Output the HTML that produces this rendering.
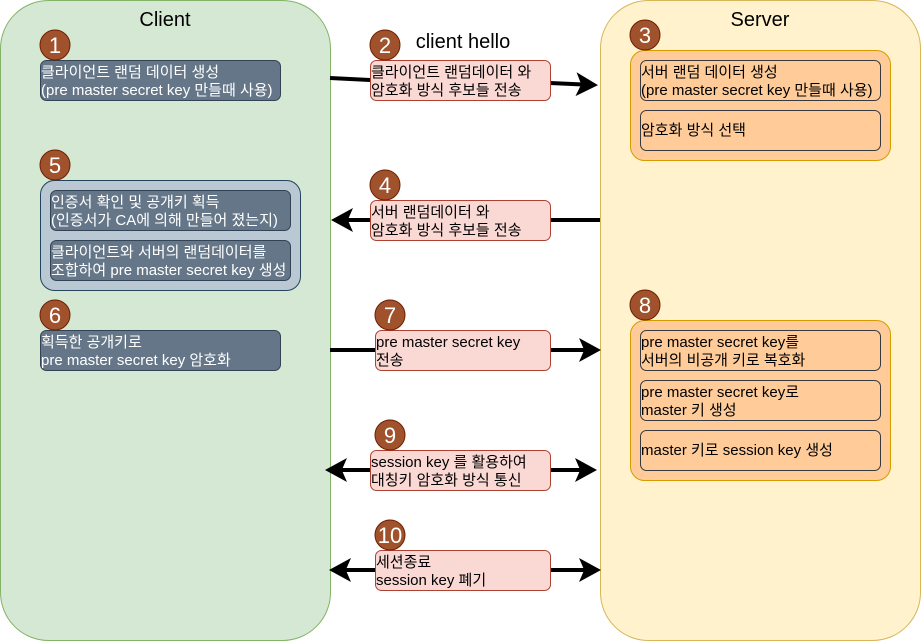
<!DOCTYPE html><html><head><meta charset="utf-8"><style>body{margin:0;background:#fff}svg{display:block}text{font-family:"Liberation Sans","Noto Sans CJK KR",sans-serif}</style></head><body>
<svg width="921" height="641" viewBox="0 0 921 641" xmlns="http://www.w3.org/2000/svg">
<defs><marker id="a" markerWidth="6" markerHeight="6" refX="4.5" refY="3" orient="auto" markerUnits="strokeWidth"><path d="M0,0 L5.5,3 L0,6 L1.3,3 Z" fill="#000"/></marker></defs>
<rect x="0.5" y="0.5" width="330" height="640" rx="48" fill="#d5e8d4" stroke="#82b366"/>
<rect x="600.5" y="0.5" width="320" height="640" rx="48" fill="#fff2cc" stroke="#d6b656"/>
<text x="165" y="26" font-size="20" text-anchor="middle">Client</text>
<text x="760" y="26" font-size="20" text-anchor="middle">Server</text>
<text x="463" y="48" font-size="20" text-anchor="middle">client hello</text>
<g stroke="#000" stroke-width="4" fill="none">
<path d="M330,78 L370,80"/><path d="M550,83 L594,85" marker-end="url(#a)"/>
<path d="M600,220 L550,220"/><path d="M370,220 L335,220" marker-end="url(#a)"/>
<path d="M330,350 L375,350"/><path d="M550,350 L597,350" marker-end="url(#a)"/>
<path d="M370,470 L329,470" marker-end="url(#a)"/><path d="M550,470 L593,470" marker-end="url(#a)"/>
<path d="M375,570 L333,570" marker-end="url(#a)"/><path d="M550,570 L597,570" marker-end="url(#a)"/>
</g>
<g fill="#647687" stroke="#314354">
<rect x="40.5" y="60.5" width="240" height="40" rx="6"/>
<rect x="40.5" y="180.5" width="260" height="110" rx="14" fill="#bac8d3" stroke="#23445d"/>
<rect x="50.5" y="190.5" width="240" height="40" rx="6"/>
<rect x="50.5" y="240.5" width="240" height="40" rx="6"/>
<rect x="40.5" y="330.5" width="240" height="40" rx="6"/>
</g>
<g fill="#fad9d5" stroke="#ae4132">
<rect x="370.5" y="60.5" width="180" height="40" rx="6"/>
<rect x="370.5" y="200.5" width="180" height="40" rx="6"/>
<rect x="375.5" y="330.5" width="175" height="40" rx="6"/>
<rect x="370.5" y="450.5" width="180" height="40" rx="6"/>
<rect x="375.5" y="550.5" width="175" height="40" rx="6"/>
</g>
<g fill="#ffcc99" stroke="#d79b00">
<rect x="630.5" y="50.5" width="260" height="110" rx="14"/>
<rect x="630.5" y="320.5" width="260" height="160" rx="14"/>
</g>
<g fill="#ffcc99" stroke="#36393d">
<rect x="640.5" y="60.5" width="240" height="40" rx="6"/>
<rect x="640.5" y="110.5" width="240" height="40" rx="6"/>
<rect x="640.5" y="330.5" width="240" height="40" rx="6"/>
<rect x="640.5" y="380.5" width="240" height="40" rx="6"/>
<rect x="640.5" y="430.5" width="240" height="40" rx="6"/>
</g>
<g font-size="15" fill="#fff">
<text x="41" y="77">클라이언트 랜덤 데이터 생성</text><text x="41" y="95">(pre master secret key 만들때 사용)</text>
<text x="51" y="207">인증서 확인 및 공개키 획득</text><text x="51" y="225">(인증서가 CA에 의해 만들어 졌는지)</text>
<text x="51" y="257">클라이언트와 서버의 랜덤데이터를</text><text x="51" y="275">조합하여 pre master secret key 생성</text>
<text x="41" y="347">획득한 공개키로</text><text x="41" y="365">pre master secret key 암호화</text>
</g>
<g font-size="15" fill="#000">
<text x="371" y="77">클라이언트 랜덤데이터 와</text><text x="371" y="95">암호화 방식 후보들 전송</text>
<text x="371" y="217">서버 랜덤데이터 와</text><text x="371" y="235">암호화 방식 후보들 전송</text>
<text x="376" y="347">pre master secret key</text><text x="376" y="365">전송</text>
<text x="371" y="467">session key 를 활용하여</text><text x="371" y="485">대칭키 암호화 방식 통신</text>
<text x="376" y="567">세션종료</text><text x="376" y="585">session key 폐기</text>
<text x="641" y="77">서버 랜덤 데이터 생성</text><text x="641" y="95">(pre master secret key 만들때 사용)</text>
<text x="641" y="135">암호화 방식 선택</text>
<text x="641" y="347">pre master secret key를</text><text x="641" y="365">서버의 비공개 키로 복호화</text>
<text x="641" y="397">pre master secret key로</text><text x="641" y="415">master 키 생성</text>
<text x="641" y="455">master 키로 session key 생성</text>
</g>
<g fill="#a0522d" stroke="#6d1f00">
<circle cx="55" cy="45" r="15"/><circle cx="385" cy="45" r="15"/><circle cx="645" cy="35" r="15"/>
<circle cx="385" cy="185" r="15"/><circle cx="55" cy="165" r="15"/><circle cx="55" cy="315" r="15"/>
<circle cx="390" cy="315" r="15"/><circle cx="645" cy="305" r="15"/><circle cx="390" cy="435" r="15"/><circle cx="390" cy="535" r="15"/>
</g>
<g font-size="22" fill="#fff" text-anchor="middle">
<text x="55" y="53">1</text><text x="385" y="53">2</text><text x="645" y="43">3</text>
<text x="385" y="193">4</text><text x="55" y="173">5</text><text x="55" y="323">6</text>
<text x="390" y="323">7</text><text x="645" y="313">8</text><text x="390" y="443">9</text><text x="390" y="543">10</text>
</g>
</svg></body></html>
